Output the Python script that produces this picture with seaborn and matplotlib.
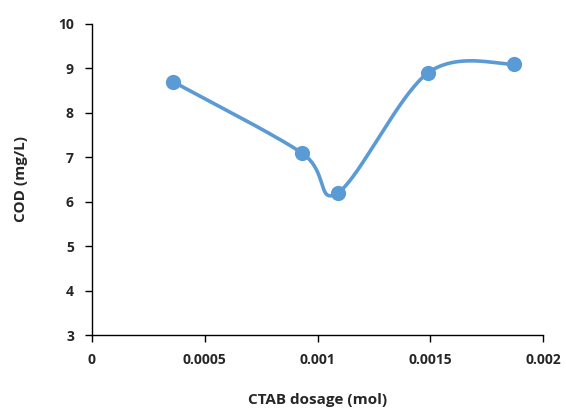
import numpy as np
import pandas as pd
import matplotlib
matplotlib.use("Agg")
import matplotlib.pyplot as plt
from matplotlib.ticker import FuncFormatter, MultipleLocator
import seaborn as sns

dosage = [0.00036, 0.00093, 0.00109, 0.00149, 0.00187]
cod = [8.7, 7.1, 6.2, 8.9, 9.1]
x_ticks = [0, 0.0005, 0.001, 0.0015, 0.002]
color = "#5B9BD5"

def smooth(xs, ys, n=40):
    # Catmull-Rom style Bezier smoothing similar to Excel's smoothed line
    P = np.column_stack([xs, ys]).astype(float)
    out = []
    for i in range(len(P) - 1):
        p0 = P[i - 1] if i > 0 else P[i]
        p1 = P[i]
        p2 = P[i + 1]
        p3 = P[i + 2] if i + 2 < len(P) else P[i + 1]
        c1 = p1 + (p2 - p0) / 6.0
        c2 = p2 - (p3 - p1) / 6.0
        t = np.linspace(0, 1, n)[:, None]
        seg = ((1 - t) ** 3) * p1 + 3 * ((1 - t) ** 2) * t * c1 + 3 * (1 - t) * t ** 2 * c2 + t ** 3 * p2
        out.append(seg if i == 0 else seg[1:])
    S = np.vstack(out)
    return S[:, 0], S[:, 1]

sns.set_style("ticks")
plt.rcParams["font.family"] = ["Open Sans", "DejaVu Sans"]

fig = plt.figure(figsize=(5.66, 4.11), dpi=100)
ax = fig.add_axes([92 / 566, (411 - 335) / 411, (543 - 92) / 566, (335 - 24) / 411])

sx, sy = smooth(dosage, cod)
curve = pd.DataFrame({"x": sx, "y": sy})
pts = pd.DataFrame({"dosage": dosage, "cod": cod})

sns.lineplot(data=curve, x="x", y="y", ax=ax, color=color, linewidth=2.6, sort=False, estimator=None)
sns.scatterplot(data=pts, x="dosage", y="cod", ax=ax, color=color, s=120, edgecolor=color, linewidth=0, zorder=3)

ax.set_xlim(0, 0.002)
ax.set_ylim(3, 10)
ax.set_xticks(x_ticks)
ax.xaxis.set_major_formatter(FuncFormatter(lambda v, p: "{:g}".format(v)))
ax.yaxis.set_major_locator(MultipleLocator(1))
for s in ["top", "right"]:
    ax.spines[s].set_visible(False)
for s in ["left", "bottom"]:
    ax.spines[s].set_color("black")
    ax.spines[s].set_linewidth(1.0)
ax.tick_params(axis="both", direction="out", length=5, width=1, color="black",
               labelsize=10, pad=8)
for lab in ax.get_xticklabels() + ax.get_yticklabels():
    lab.set_fontweight("bold")
ax.set_xlabel("CTAB dosage (mol)", fontsize=11, fontweight="bold", labelpad=19)
ax.set_ylabel("COD (mg/L)", fontsize=11, fontweight="bold", labelpad=22)

fig.savefig("out.png", dpi=100)
